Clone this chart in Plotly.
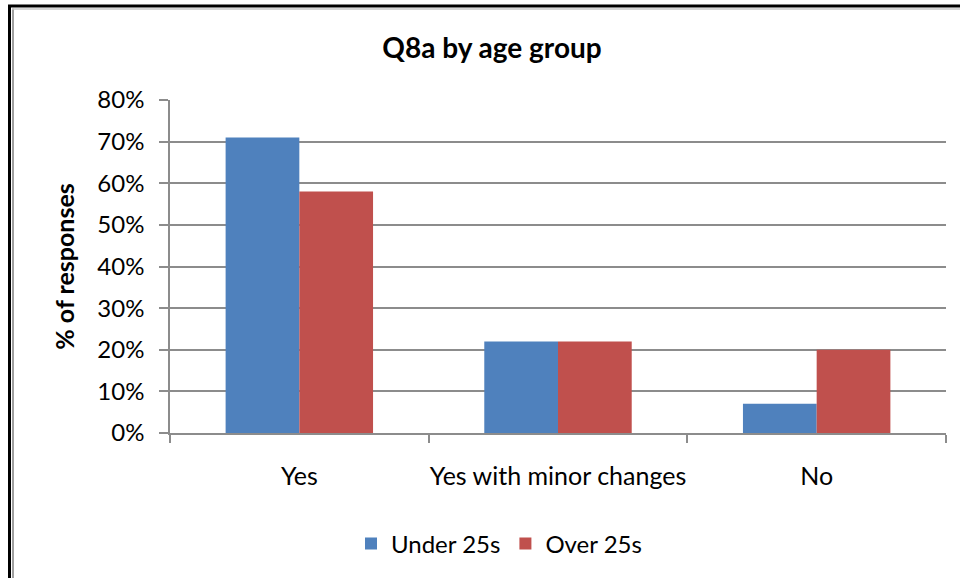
import plotly.graph_objects as go

categories = ["Yes", "Yes with minor changes", "No"]
under_25s = [0.71, 0.22, 0.07]
over_25s = [0.58, 0.22, 0.20]
series_names = ["Under 25s", "Over 25s"]
y_ticks = [0, 0.1, 0.2, 0.3, 0.4, 0.5, 0.6, 0.7, 0.8]
y_tick_labels = ["0%", "10%", "20%", "30%", "40%", "50%", "60%", "70%", "80%"]

FONT = "Lato"
GRID = "#8c8c8c"

fig = go.Figure()
fig.add_trace(go.Bar(x=categories, y=under_25s, name=series_names[0],
                     marker=dict(color="#4F81BD", line=dict(width=0))))
fig.add_trace(go.Bar(x=categories, y=over_25s, name=series_names[1],
                     marker=dict(color="#C0504D", line=dict(width=0))))

W, H = 963, 578
L, R, T, B = 170, 17, 100, 145
pw, ph = W - L - R, H - T - B

def px(x):
    return (x - L) / pw

def py(y):
    return (H - B - y) / ph

shapes = [
    dict(type="line", xref="paper", yref="paper", x0=px(9.5), x1=px(9.5), y0=py(5), y1=py(600),
         line=dict(color="black", width=3)),
    dict(type="line", xref="paper", yref="paper", x0=px(8), x1=px(960), y0=py(6), y1=py(6),
         line=dict(color="black", width=3)),
    dict(type="line", xref="paper", yref="paper", x0=px(13), x1=px(13), y0=py(8.5), y1=py(600),
         line=dict(color="#a0a0a0", width=2)),
    dict(type="line", xref="paper", yref="paper", x0=px(12), x1=px(960), y0=py(9), y1=py(9),
         line=dict(color="#c8c8c8", width=1.5)),
]

fig.update_layout(
    width=W, height=H,
    margin=dict(l=L, r=R, t=T, b=B, autoexpand=False),
    paper_bgcolor="white", plot_bgcolor="white",
    barmode="group", bargap=0.43, bargroupgap=0,
    font=dict(family=FONT, color="#000000", size=24),
    title=dict(text="<b>Q8a by age group</b>", xref="container", x=492 / W, xanchor="center",
               yref="container", y=1 - 48 / H, yanchor="middle",
               font=dict(family=FONT, size=28, color="black")),
    showlegend=True,
    legend=dict(orientation="h", x=px(499), xanchor="center", y=py(544), yanchor="middle",
                font=dict(family=FONT, size=24), itemwidth=30, traceorder="normal",
                bgcolor="rgba(0,0,0,0)"),
    shapes=shapes,
    xaxis=dict(showline=True, linecolor=GRID, linewidth=1.5, ticks="outside", tickson="boundaries",
               ticklen=8, tickcolor=GRID, tickwidth=1.5, showgrid=False, tickangle=0,
               automargin=False,
               tickfont=dict(family=FONT, size=25), ticklabelstandoff=20),
    yaxis=dict(range=[0, 0.8], tickvals=y_ticks, ticktext=y_tick_labels,
               showline=True, linecolor=GRID, linewidth=1.5, ticks="outside", ticklen=9,
               tickcolor=GRID, tickwidth=1.5, showgrid=True, gridcolor=GRID, gridwidth=1.5,
               zeroline=False, tickfont=dict(family=FONT, size=24), ticklabelstandoff=10,
               automargin=False,
               title=dict(text="<b>% of responses</b>", font=dict(family=FONT, size=25), standoff=16)),
)

fig.write_html("out.html", config={"displayModeBar": False},
               post_script="document.body.style.margin='0';document.body.style.padding='0';")
